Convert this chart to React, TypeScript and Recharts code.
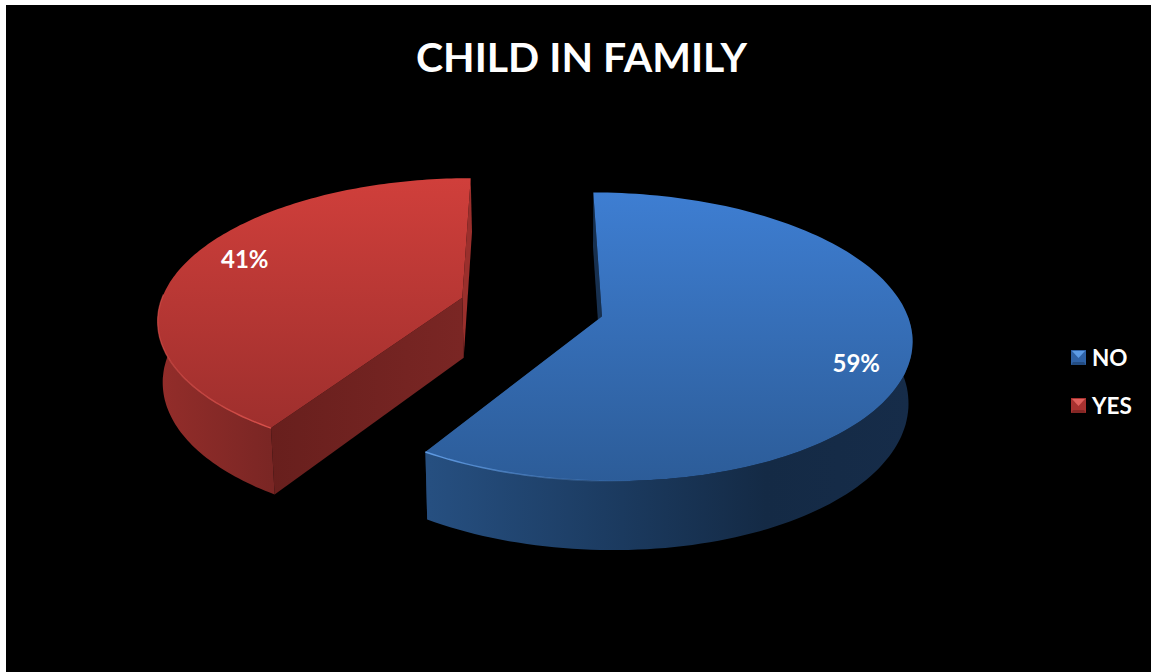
import React from "react"
import { PieChart, Pie, Legend } from "recharts"

const categories = ["NO", "YES"]
const shares = [59, 41]
const chartTitle = "CHILD IN FAMILY"

const FONT = "Lato, 'Open Sans', sans-serif"

// tilted camera used to flatten the round pie into a 3D looking disc
const SQUASH = 0.458
const PERSPECTIVE = 0.14
const EXPLODE = 0.24
const VANISH_X = 575

const slices = categories.map((name, i) => ({ name, value: shares[i] }))

type Pt = [number, number]

const project = (cx: number, cy: number, r: number, u: number, v: number): Pt => {
  const s = 1 / (1 - PERSPECTIVE * v)
  return [cx + r * u * s, cy + r * SQUASH * v * s]
}

// same point pushed down to the underside of the disc
const drop = ([x, y]: Pt): Pt => [VANISH_X + (x - VANISH_X) * 0.988, y + 45 + 0.05 * y]

const toPath = (pts: Pt[]) =>
  pts.map((p, i) => `${i ? "L" : "M"}${p[0].toFixed(1)} ${p[1].toFixed(1)}`).join(" ") + " Z"

const openPath = (pts: Pt[]) =>
  pts.map((p, i) => `${i ? "L" : "M"}${p[0].toFixed(1)} ${p[1].toFixed(1)}`).join(" ")

const RAD = Math.PI / 180

const explodeOffset = (mid: number): Pt => [EXPLODE * Math.cos(mid * RAD), -EXPLODE * Math.sin(mid * RAD)]

const paints = [
  { top: "url(#blueTop)", wall: "url(#blueWall)", cut: "#17304f", cutFar: "#1a3558", rim: "url(#blueRim)" },
  { top: "url(#redTop)", wall: "url(#redWall)", cut: "url(#redCut)", cutFar: "#9a2f2c", rim: "url(#redRim)" },
]

function Slice3D(props: any) {
  const { cx, cy, outerRadius: r, startAngle, endAngle, name } = props
  const paint = paints[categories.indexOf(name)] ?? paints[0]
  const mid = (startAngle + endAngle) / 2
  const [ox, oy] = explodeOffset(mid)
  const at = (deg: number, k = 1) =>
    project(cx, cy, r, ox + k * Math.cos(deg * RAD), oy - k * Math.sin(deg * RAD))

  const rim: Pt[] = []
  const front: Pt[] = []
  const step = (endAngle - startAngle) / 140
  for (let i = 0; i <= 140; i++) {
    const a = startAngle + step * i
    rim.push(at(a))
    if (Math.sin(a * RAD) <= 0.03) front.push(at(a))
  }
  const apex = at(0, 0)
  const first = rim[0]
  const last = rim[rim.length - 1]
  const cutStart = [first, apex, drop(apex), drop(first)]
  const cutEnd = [last, apex, drop(apex), drop(last)]
  const outer = [...front, ...front.slice().reverse().map(drop)]

  return (
    <g>
      {/* walls first, the top face covers whatever faces away */}
      <path d={toPath(cutEnd)} fill={paint.cutFar} />
      <path d={toPath(cutStart)} fill={paint.cut} />
      <path d={toPath(outer)} fill={paint.wall} />
      <path d={toPath([apex, ...rim])} fill={paint.top} />
      <path d={openPath(front)} fill="none" stroke={paint.rim} strokeWidth={1.4} />
    </g>
  )
}

function PercentLabel(props: any) {
  const { cx, cy, outerRadius: r, midAngle, percent } = props
  const [ox, oy] = explodeOffset(midAngle)
  const [x, y] = project(
    cx,
    cy,
    r,
    ox + 0.808 * Math.cos(midAngle * RAD),
    oy - 1.1 * Math.sin(midAngle * RAD),
  )
  return (
    <text
      x={x + 3}
      y={y + 1}
      fill="#fff"
      fontFamily={FONT}
      fontWeight={700}
      fontSize={24}
      textAnchor="middle"
      dominantBaseline="central"
    >
      {`${Math.round(percent * 100)}%`}
    </text>
  )
}

const markerColors = [
  { base: "#2f62a6", light: "#5c9be6", edge: "#234c82" },
  { base: "#a83230", light: "#e0605c", edge: "#842725" },
]

function LegendList({ payload }: any) {
  return (
    <div style={{ fontFamily: FONT, fontWeight: 700, fontSize: 22.5, color: "#fff" }}>
      {(payload ?? []).map((entry: any) => {
        const c = markerColors[categories.indexOf(entry.value)] ?? markerColors[0]
        return (
          <div key={entry.value} style={{ display: "flex", alignItems: "center", height: 48 }}>
            <svg width={15} height={15} style={{ marginRight: 6 }}>
              <rect width={15} height={15} fill={c.base} />
              <polygon points="1,1 14,1 7.5,8" fill={c.light} />
              <polygon points="0,15 15,15 13,12 2,12" fill={c.edge} />
            </svg>
            <span>{entry.value}</span>
          </div>
        )
      })}
    </div>
  )
}

export default function App() {
  return (
    <div style={{ position: "absolute", left: 0, top: 0, width: 1151, height: 672, background: "#fff", overflow: "hidden" }}>
      <div style={{ position: "absolute", left: 6, top: 5, width: 1145, height: 667, background: "#000" }} />
      <div style={{ position: "absolute", left: 0, top: 0 }}>
        <PieChart width={1151} height={672} margin={{ top: 0, right: 0, bottom: 0, left: 0 }}>
          <defs>
            <linearGradient id="blueTop" gradientUnits="userSpaceOnUse" x1="0" y1="192" x2="0" y2="483">
              <stop offset="0" stopColor="#3e7ed2" />
              <stop offset="1" stopColor="#2c5c98" />
            </linearGradient>
            <linearGradient id="redTop" gradientUnits="userSpaceOnUse" x1="0" y1="178" x2="0" y2="428">
              <stop offset="0" stopColor="#d03f3b" />
              <stop offset="1" stopColor="#9e2f2d" />
            </linearGradient>
            <linearGradient id="blueWall" gradientUnits="userSpaceOnUse" x1="430" y1="0" x2="910" y2="0">
              <stop offset="0" stopColor="#264f80" />
              <stop offset="0.4" stopColor="#1b3a5f" />
              <stop offset="0.7" stopColor="#142a45" />
              <stop offset="1" stopColor="#162c49" />
            </linearGradient>
            <linearGradient id="redWall" gradientUnits="userSpaceOnUse" x1="160" y1="0" x2="272" y2="0">
              <stop offset="0" stopColor="#932d2a" />
              <stop offset="1" stopColor="#7a2624" />
            </linearGradient>
            <linearGradient id="redCut" gradientUnits="userSpaceOnUse" x1="270" y1="0" x2="462" y2="0">
              <stop offset="0" stopColor="#681f1d" />
              <stop offset="1" stopColor="#7a2624" />
            </linearGradient>
            <linearGradient id="blueRim" gradientUnits="userSpaceOnUse" x1="430" y1="0" x2="640" y2="0">
              <stop offset="0" stopColor="#5f9ae2" />
              <stop offset="1" stopColor="#5f9ae2" stopOpacity="0" />
            </linearGradient>
            <linearGradient id="redRim" gradientUnits="userSpaceOnUse" x1="158" y1="0" x2="268" y2="0">
              <stop offset="0" stopColor="#d9504b" stopOpacity="0.6" />
              <stop offset="1" stopColor="#d9504b" />
            </linearGradient>
          </defs>
          <text
            x={581.5}
            y={56}
            fill="#fff"
            fontFamily={FONT}
            fontWeight={700}
            fontSize={41}
            textAnchor="middle"
            dominantBaseline="central"
          >
            {chartTitle}
          </text>
          <Pie
            data={slices}
            dataKey="value"
            nameKey="name"
            cx={531.5}
            cy={307}
            innerRadius={0}
            outerRadius={303}
            startAngle={90}
            endAngle={-270}
            stroke="none"
            shape={Slice3D}
            label={PercentLabel}
            labelLine={false}
            isAnimationActive={false}
          />
          <Legend
            layout="vertical"
            align="right"
            verticalAlign="top"
            content={LegendList}
            wrapperStyle={{ left: 1071, top: 333, width: 75, right: "auto" }}
          />
        </PieChart>
      </div>
    </div>
  )
}
